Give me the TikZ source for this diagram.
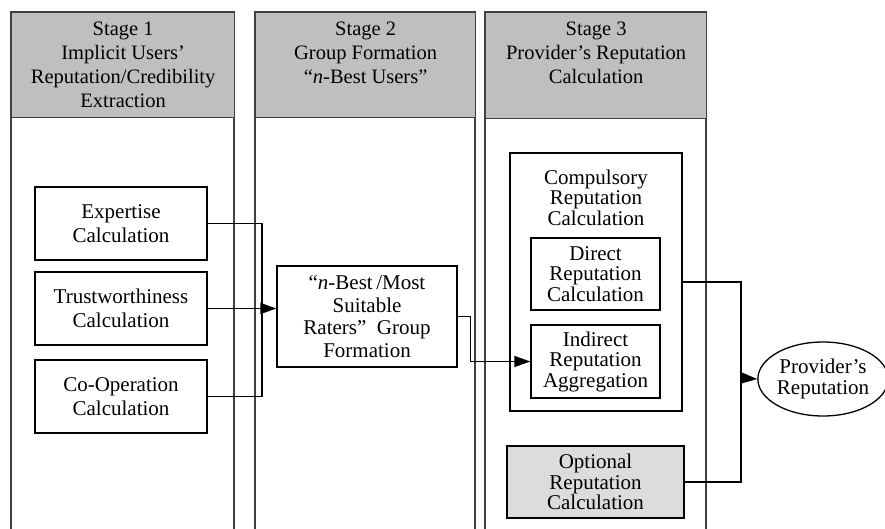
\documentclass[tikz,border=0pt]{standalone}
\usepackage{fontspec}
\setmainfont{Liberation Serif}
\usetikzlibrary{arrows.meta, shapes.geometric, positioning}

\definecolor{headgray}{HTML}{BFBFBF}
\definecolor{optgray}{HTML}{DCDCDC}

\tikzset{
  colline/.style={line width=1.3pt, black!75},
  stagehead/.style={draw=black!75, line width=1.3pt, fill=headgray, anchor=north west, inner sep=0pt},
  headtext/.style={align=center, font=\fontsize{20.5}{24}\selectfont, anchor=north, inner sep=0pt},
  calcbox/.style={draw, line width=1.3pt, align=center, inner sep=0pt, font=\fontsize{21}{24.5}\selectfont},
  subbox/.style={calcbox, font=\fontsize{21}{20.5}\selectfont},
  link/.style={line width=1.3pt},
  arr/.style={link, -{Triangle[length=16pt,width=11pt]}}
}

\begin{document}
\begin{tikzpicture}[x=1pt, y=-1pt]
\useasboundingbox (0,0) rectangle (885,529);
% stage columns
\foreach \l/\r in {11/234, 255/475, 485/706}
  \draw[colline] (\l,529) -- (\l,12) -- (\r,12) -- (\r,529);
% stage headers
\node[stagehead, minimum width=223pt, minimum height=105pt] (s1) at (11,12) {};
\node[stagehead, minimum width=220pt, minimum height=105pt] (s2) at (255,12) {};
\node[stagehead, minimum width=221pt, minimum height=106pt] (s3) at (485,12) {};
\node[headtext] (t1) at ([yshift=-10pt]s1.north) {Stage 1\\Implicit Users'\\Reputation/Credibility\\Extraction};
\node[headtext] (t2) at ([yshift=-10pt]s2.north) {Stage 2\\Group Formation\\``\textit{n}-Best Users''};
\node[headtext] (t3) at ([yshift=-10pt]s3.north) {Stage 3\\Provider's Reputation\\Calculation};
% stage 1
\node[calcbox, minimum width=172pt, minimum height=73pt] (exp) at (121,223.5) {Expertise\\Calculation};
\node[calcbox, minimum width=172pt, minimum height=73pt] (trust) at (121,308.5) {Trustworthiness\\Calculation};
\node[calcbox, minimum width=172pt, minimum height=73pt] (coop) at (121,396.5) {Co-Operation\\Calculation};
% stage 2
\node[calcbox, minimum width=180pt, minimum height=101pt, font=\fontsize{21}{22.5}\selectfont] (nbest) at (367,316.5) {``\textit{n}-Best\,/Most\\Suitable\\Raters''~~Group\\Formation};
% stage 3
\node[draw, line width=1.3pt, minimum width=172pt, minimum height=258pt] (comp) at (596,282) {};
\node[headtext, font=\fontsize{21}{20.5}\selectfont] (ctitle) at ([yshift=-17pt]comp.north) {Compulsory\\Reputation\\Calculation};
\node[subbox, minimum width=129pt, minimum height=72pt] (dir) at (595.5,274) {Direct\\Reputation\\Calculation};
\node[subbox, minimum width=129pt, minimum height=73pt] (indir) at (595.5,361.5) {Indirect\\Reputation\\Aggregation};
\node[subbox, fill=optgray, minimum width=177pt, minimum height=72pt] (opt) at (595.5,482) {Optional\\Reputation\\Calculation};
\node[ellipse, draw, line width=1.3pt, inner sep=0pt, minimum width=122pt, minimum height=74pt, align=center, font=\fontsize{21}{21.5}\selectfont] (prov) at (823,379) {Provider's\\Reputation};
% connectors
\coordinate (jn) at (262,309);
\draw[link] (exp.east) -| (jn) |- (coop.east);
\draw[arr] (trust.east) -- (trust.east -| nbest.west);
\draw[arr] (nbest.east) -- ++(13,0) |- (indir.west);
\coordinate (jp) at (741,378);
\draw[link] (comp.east) -| (jp) |- (opt.east);
\draw[arr] (jp) -- (prov.west);
\end{tikzpicture}
\end{document}
